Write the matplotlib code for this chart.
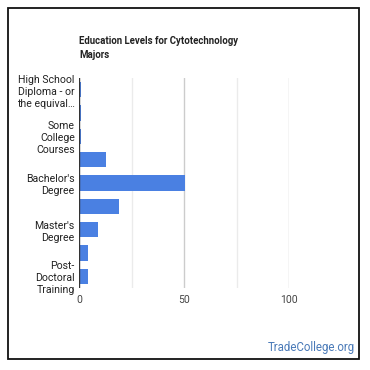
import matplotlib.pyplot as plt
from matplotlib.patches import Rectangle

# Chart data
categories = ["High School Diploma - or the equivalent", "Post-Secondary Certificate",
              "Some College Courses", "Associate's Degree", "Bachelor's Degree",
              "Post-Baccalaureate Certificate", "Master's Degree",
              "Post-Master's Certificate", "Post-Doctoral Training"]
values = [1.0, 1.0, 1.0, 12.9, 50.5, 19.2, 9.2, 4.4, 4.4]
tick_labels = ["High School\nDiploma - or\nthe equival…", "", "Some\nCollege\nCourses", "",
               "Bachelor's\nDegree", "", "Master's\nDegree", "", "Post-\nDoctoral\nTraining"]
x_ticks = [0, 50, 100]
x_minor = [25, 75]

plt.rcParams["font.family"] = ["Roboto", "DejaVu Sans"]

W, H = 370, 370
fig = plt.figure(figsize=(W / 100, H / 100), dpi=100)
ax = fig.add_axes([79 / W, 1 - 288 / H, 210 / W, 210 / H])

y = list(range(len(categories)))
ax.barh(y, values, height=0.65, color="#4a80e2", zorder=3)

ax.set_xlim(0, 100)
ax.set_ylim(len(categories) - 0.5, -0.5)

# gridlines
for v in x_ticks[1:]:
    ax.axvline(v, color="#cccccc", linewidth=1, zorder=1)
for v in x_minor:
    ax.axvline(v, color="#ebebeb", linewidth=1, zorder=1)
ax.axvline(0, color="#333333", linewidth=1.0, zorder=4)

ax.set_xticks(x_ticks)
ax.set_xticklabels([str(v) for v in x_ticks], fontsize=7.5, color="#444444")
ax.set_yticks(y)
ax.set_yticklabels(tick_labels, fontsize=7.6, color="#222222", linespacing=1.25,
                   multialignment="right")
ax.tick_params(axis="both", length=0, pad=3)
ax.tick_params(axis="x", pad=5)
for s in ax.spines.values():
    s.set_visible(False)

# title
fig.text(79 / W, 1 - 36 / H, "Education Levels for Cytotechnology\nMajors", fontsize=6.9,
         fontweight="bold", color="#222222", ha="left", va="top", linespacing=1.5)

# watermark
fig.text(355 / W, 1 - 347 / H, "TradeCollege.org", fontsize=8.3, color="#4a7ab8",
         ha="right", va="center")

# outer frame
fig.patches.append(Rectangle((8 / W, 1 - 359 / H), 351 / W, 351 / H, transform=fig.transFigure,
                             fill=False, edgecolor="#111111", linewidth=1.3))

plt.savefig("out.png", dpi=100)
